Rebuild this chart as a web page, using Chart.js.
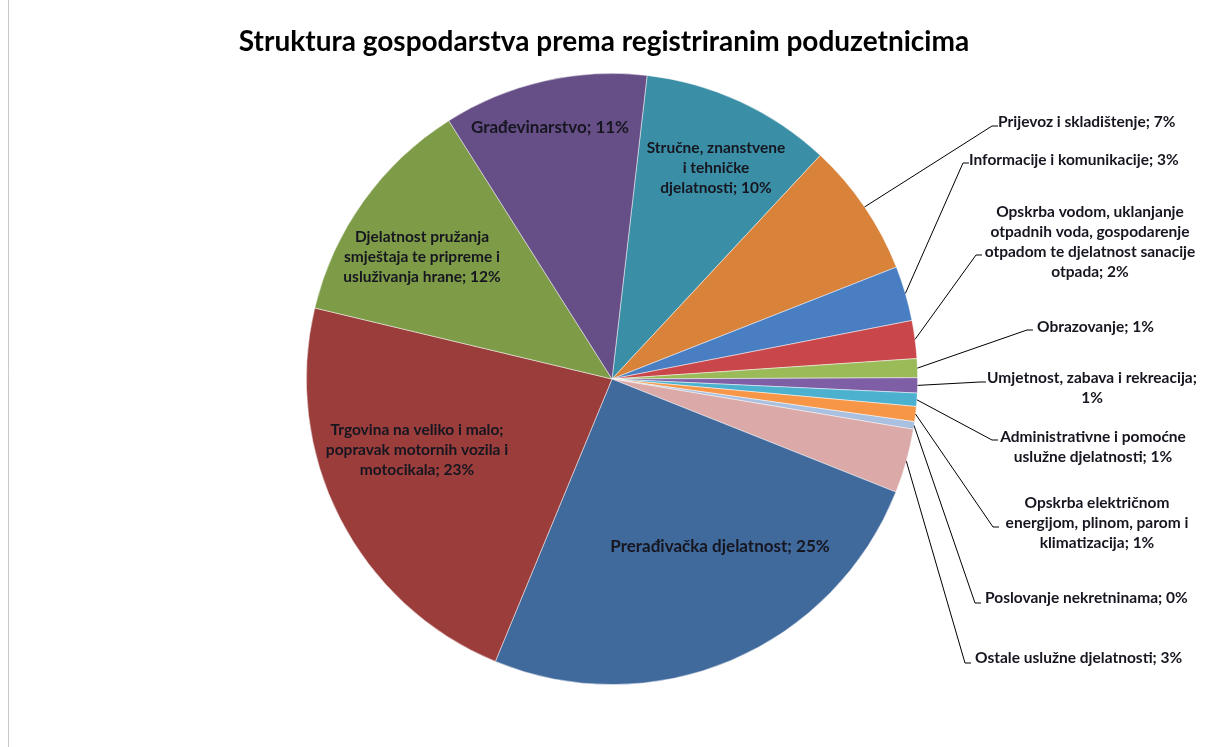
<!DOCTYPE html>
<html>
<head>
<meta charset="utf-8">
<script src="https://cdn.jsdelivr.net/npm/chart.js@4.4.0/dist/chart.umd.min.js"></script>
<style>
  html, body { margin: 0; padding: 0; background: #fff; }
  #wrap { width: 1212px; height: 747px; position: relative; }
</style>
</head>
<body>
<div id="wrap"><canvas id="chart"></canvas></div>
<script>
// kategorije redom u smjeru kazaljke na satu, od vrha
const kategorije = [
    "Stručne, znanstvene i tehničke djelatnosti",
    "Prijevoz i skladištenje",
    "Informacije i komunikacije",
    "Opskrba vodom, uklanjanje otpadnih voda, gospodarenje otpadom te djelatnost sanacije otpada",
    "Obrazovanje",
    "Umjetnost, zabava i rekreacija",
    "Administrativne i pomoćne uslužne djelatnosti",
    "Opskrba električnom energijom, plinom, parom i klimatizacija",
    "Poslovanje nekretninama",
    "Ostale uslužne djelatnosti",
    "Prerađivačka djelatnost",
    "Trgovina na veliko i malo; popravak motornih vozila i motocikala",
    "Djelatnost pružanja smještaja te pripreme i usluživanja hrane",
    "Građevinarstvo"
];
// udio poduzetnika (%), procijenjeno sa slike
const udjeli = [10.1, 7.1, 2.9, 2.0, 1.0, 0.8, 0.7, 0.8, 0.4, 3.4, 25.2, 22.5, 12.3, 10.8];

const boje = [
    '#3a8fa6', '#d8823a', '#4a7ec3', '#c9474a', '#9bbb59', '#7e5fa5', '#4bb1ce',
    '#f79646', '#a9c0e0', '#dba9a8', '#40699c', '#9b3d3b', '#7e9b48', '#664e86'
];

// raspored oznaka (px od središta pite); rijeci = broj riječi po retku
const raspored = [
    { x: 104, y: -231, align: 'center', rijeci: [2, 2, 2] },
    { x: 386, y: -257, align: 'left', vani: true, ex: 380, ey: -253 },
    { x: 357, y: -219, align: 'left', vani: true, ex: 351, ey: -216 },
    { x: 478, y: -167, align: 'center', vani: true, ex: 364, ey: -124, rijeci: [3, 3, 4, 2] },
    { x: 425, y: -52, align: 'left', vani: true, ex: 415, ey: -49 },
    { x: 480, y: -1, align: 'center', vani: true, ex: 368, ey: 3, rijeci: [4, 1] },
    { x: 481, y: 58, align: 'center', vani: true, ex: 380, ey: 61, rijeci: [3, 3] },
    { x: 485, y: 124, align: 'center', vani: true, ex: 381, ey: 148, rijeci: [2, 4, 2] },
    { x: 373, y: 219, align: 'left', vani: true, ex: 363, ey: 224 },
    { x: 363, y: 279, align: 'left', vani: true, ex: 353, ey: 284 },
    { x: 108, y: 168, align: 'center', size: 17 },
    { x: -195, y: 51, align: 'center', rijeci: [5, 4, 2] },
    { x: -190, y: -142, align: 'center', rijeci: [2, 4, 3] },
    { x: -62, y: -251, align: 'center', size: 17 }
];

function redovi(tekst, rijeci) {
    const w = tekst.split(' ');
    if (!rijeci) return [tekst];
    let out = [], k = 0;
    rijeci.forEach(n => { out.push(w.slice(k, k + n).join(' ')); k += n; });
    return out;
}

const oznake = {
    id: 'oznake',
    beforeDraw(chart) {
        const ctx = chart.ctx;
        ctx.save();
        ctx.fillStyle = '#fff';
        ctx.fillRect(0, 0, chart.width, chart.height);
        ctx.strokeStyle = '#c8c8c8';
        ctx.lineWidth = 1;
        ctx.beginPath();
        ctx.moveTo(8.5, 0);
        ctx.lineTo(8.5, chart.height);
        ctx.stroke();
        ctx.fillStyle = '#000';
        ctx.font = 'bold 28px Lato';
        ctx.textAlign = 'center';
        ctx.textBaseline = 'middle';
        ctx.fillText('Struktura gospodarstva prema registriranim poduzetnicima', 604, 42);
        ctx.restore();
    },
    afterDatasetsDraw(chart) {
        const ctx = chart.ctx;
        const meta = chart.getDatasetMeta(0);
        const total = udjeli.reduce((a, b) => a + b, 0);
        ctx.save();
        ctx.textBaseline = 'middle';
        meta.data.forEach((arc, i) => {
            const p = raspored[i];
            const cx = arc.x, cy = arc.y, R = arc.outerRadius;
            const tekst = kategorije[i] + '; ' + Math.round(udjeli[i] / total * 100) + '%';
            if (p.vani) {
                const mid = (arc.startAngle + arc.endAngle) / 2;
                ctx.strokeStyle = '#000';
                ctx.lineWidth = 1;
                ctx.beginPath();
                ctx.moveTo(cx + Math.cos(mid) * R, cy + Math.sin(mid) * R);
                ctx.lineTo(cx + p.ex, cy + p.ey);
                ctx.lineTo(cx + p.ex + 6, cy + p.ey);
                ctx.stroke();
            }
            ctx.font = 'bold ' + (p.size || 15.5) + 'px Lato';
            ctx.fillStyle = '#161620';
            ctx.textAlign = p.align;
            redovi(tekst, p.rijeci).forEach((l, k) => {
                ctx.fillText(l, cx + p.x, cy + p.y + k * 20);
            });
        });
        ctx.restore();
    }
};

new Chart(document.getElementById('chart'), {
    type: 'pie',
    data: {
        labels: kategorije,
        datasets: [{
            data: udjeli,
            backgroundColor: boje,
            borderColor: 'rgba(255,255,255,0.6)',
            borderWidth: 0.8
        }]
    },
    options: {
        responsive: true,
        maintainAspectRatio: false,
        animation: false,
        rotation: 6.6,
        layout: { padding: { left: 306, right: 294, top: 73, bottom: 62 } },
        plugins: {
            legend: { display: false },
            title: { display: false },
            tooltip: { enabled: false }
        }
    },
    plugins: [oznake]
});
</script>
</body>
</html>
